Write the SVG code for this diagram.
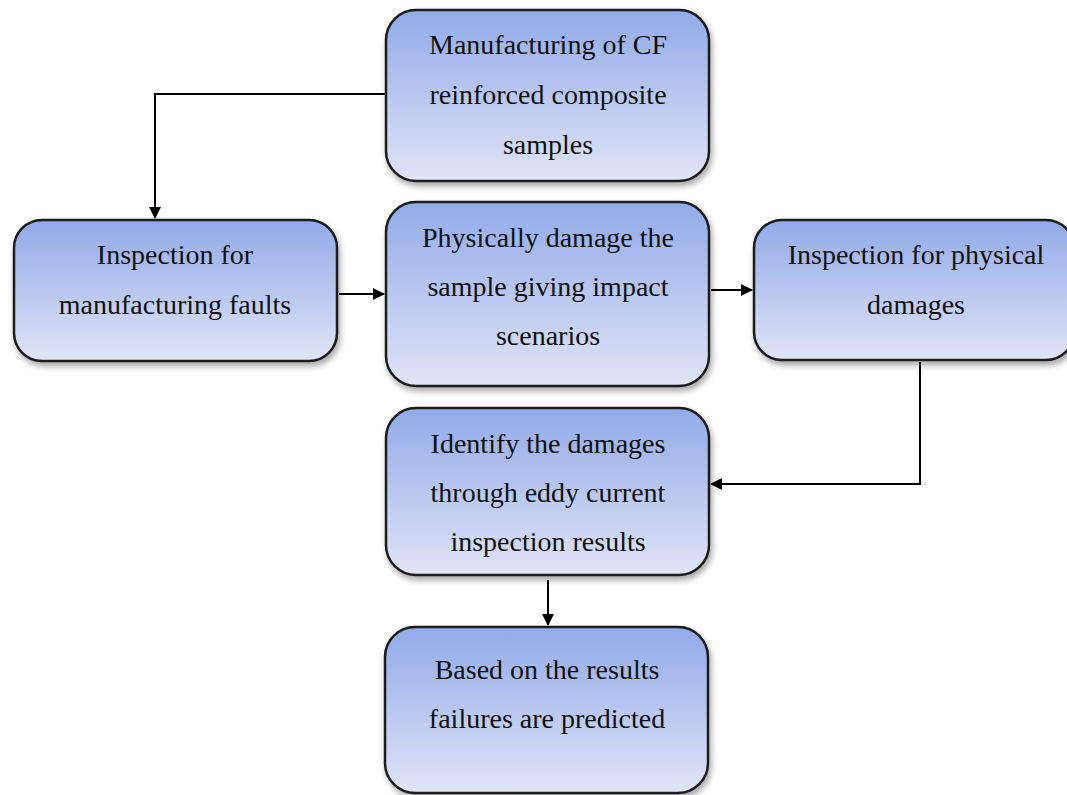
<svg xmlns="http://www.w3.org/2000/svg" width="1067" height="795" viewBox="0 0 1067 795">
<style>
.box{fill:url(#g);stroke:#1a1a1a;stroke-width:2.5;filter:url(#sh)}
.t{font-family:"Liberation Serif","Times New Roman",serif;font-size:28px;fill:#111;text-anchor:middle}
.c{fill:none;stroke:#000;stroke-width:2;marker-end:url(#ah)}
</style>
<defs>
<linearGradient id="g" x1="0" y1="0" x2="0" y2="1">
<stop offset="0" stop-color="#91aae8"/>
<stop offset="1" stop-color="#e0e5f7"/>
</linearGradient>
<filter id="sh" x="-10%" y="-10%" width="120%" height="130%">
<feGaussianBlur in="SourceAlpha" stdDeviation="3"/>
<feOffset dx="2" dy="4" result="b"/>
<feComponentTransfer><feFuncA type="linear" slope="0.35"/></feComponentTransfer>
<feMerge><feMergeNode/><feMergeNode in="SourceGraphic"/></feMerge>
</filter>
<marker id="ah" markerWidth="12" markerHeight="12" refX="11" refY="6" orient="auto" markerUnits="userSpaceOnUse">
<path d="M0,0 L12,6 L0,12 z" fill="#000"/>
</marker>
</defs>
<rect width="1067" height="795" fill="#fff"/>
<g id="connectors">
<path class="c" d="M386,94 H155 V218"/>
<path class="c" d="M339,294 H384"/>
<path class="c" d="M711,290 H752"/>
<path class="c" d="M920,362 V484 H711"/>
<path class="c" d="M548,580 V625"/>
</g>
<g id="n1">
<rect class="box" x="386" y="10" width="323" height="171" rx="30"/>
<text class="t" x="548" y="54">Manufacturing of CF</text>
<text class="t" x="548" y="104">reinforced composite</text>
<text class="t" x="548" y="154">samples</text>
</g>
<g id="n2">
<rect class="box" x="14" y="220" width="323" height="141" rx="28"/>
<text class="t" x="175" y="264">Inspection for</text>
<text class="t" x="175" y="314">manufacturing faults</text>
</g>
<g id="n3">
<rect class="box" x="386" y="202" width="323" height="184" rx="30"/>
<text class="t" x="548" y="247">Physically damage the</text>
<text class="t" x="548" y="296">sample giving impact</text>
<text class="t" x="548" y="345">scenarios</text>
</g>
<g id="n4">
<rect class="box" x="754" y="220" width="320" height="140" rx="28"/>
<text class="t" x="916" y="264">Inspection for physical</text>
<text class="t" x="916" y="314">damages</text>
</g>
<g id="n5">
<rect class="box" x="386" y="408" width="323" height="167" rx="30"/>
<text class="t" x="548" y="453">Identify the damages</text>
<text class="t" x="548" y="502">through eddy current</text>
<text class="t" x="548" y="551">inspection results</text>
</g>
<g id="n6">
<rect class="box" x="385" y="627" width="323" height="166" rx="30"/>
<text class="t" x="547" y="679">Based on the results</text>
<text class="t" x="547" y="728">failures are predicted</text>
</g>
</svg>
